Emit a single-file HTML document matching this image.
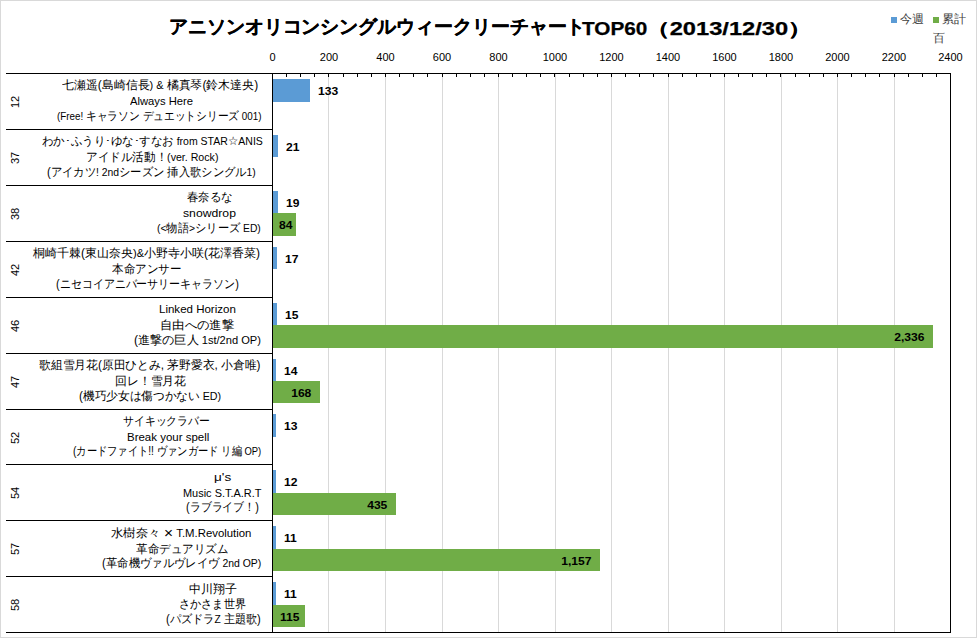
<!DOCTYPE html>
<html><head><meta charset="utf-8">
<style>
html,body{margin:0;padding:0;background:#fff;}
body{width:977px;height:638px;position:relative;overflow:hidden;font-family:"Liberation Sans",sans-serif;color:#000;}
.a{position:absolute;}
.ln{position:absolute;background:#000;}
.gl{position:absolute;background:#d9d9d9;}
.t{position:absolute;white-space:nowrap;font-size:12px;line-height:15px;transform-origin:0 0;}
.ax{position:absolute;white-space:nowrap;font-size:11px;line-height:12px;color:#000;}
.lb{position:absolute;white-space:nowrap;font-size:11px;line-height:12px;font-weight:bold;transform-origin:0 0;transform:scaleX(1.1);}
.lbr{transform-origin:100% 0;}
.rn{position:absolute;white-space:nowrap;font-size:11px;line-height:12px;transform-origin:0 0;transform:rotate(-90deg);}
.b{position:absolute;background:#5b9bd5;}
.l{font-size:11px;}
.g{position:absolute;background:#70ad47;}
</style></head><body>
<div class="a" style="left:0;top:0;width:977px;height:638px;box-sizing:border-box;border:1px solid #d9d9d9;"></div>

<div id="title_a" class="t" style="left:169.00px;top:14.5px;font-size:19px;line-height:24px;font-weight:bold;-webkit-text-stroke:0.25px #000;transform:scaleX(0.9961);">アニソンオリコンシングルウィークリーチャート</div>
<div id="title_b" class="t" style="left:582.11px;top:16.5px;font-size:18px;line-height:24px;font-weight:bold;-webkit-text-stroke:0.25px #000;transform:scaleX(1.1526);">TOP60</div>
<div id="title_c" class="t" style="left:645.74px;top:16.5px;font-size:18px;line-height:24px;font-weight:bold;-webkit-text-stroke:0.25px #000;transform:scaleX(1.3152);">（2013/12/30）</div>
<div class="b" style="left:891px;top:17px;width:6px;height:6px;"></div>
<div id="lg1" class="t" style="left:900px;top:12px;color:#404040;">今週</div>
<div class="g" style="left:933px;top:17px;width:6px;height:6px;"></div>
<div id="lg2" class="t" style="left:942px;top:12px;color:#404040;">累計</div>
<div id="lg3" class="t" style="left:933px;top:31px;color:#404040;">百</div>
<div class="gl" style="left:328px;top:74px;width:1px;height:558px;"></div>
<div class="gl" style="left:385px;top:74px;width:1px;height:558px;"></div>
<div class="gl" style="left:442px;top:74px;width:1px;height:558px;"></div>
<div class="gl" style="left:498px;top:74px;width:1px;height:558px;"></div>
<div class="gl" style="left:555px;top:74px;width:1px;height:558px;"></div>
<div class="gl" style="left:611px;top:74px;width:1px;height:558px;"></div>
<div class="gl" style="left:668px;top:74px;width:1px;height:558px;"></div>
<div class="gl" style="left:724px;top:74px;width:1px;height:558px;"></div>
<div class="gl" style="left:781px;top:74px;width:1px;height:558px;"></div>
<div class="gl" style="left:837px;top:74px;width:1px;height:558px;"></div>
<div class="gl" style="left:894px;top:74px;width:1px;height:558px;"></div>
<div class="ax" style="left:242.5px;width:60px;text-align:center;top:51px;">0</div>
<div class="ax" style="left:299.0px;width:60px;text-align:center;top:51px;">200</div>
<div class="ax" style="left:355.5px;width:60px;text-align:center;top:51px;">400</div>
<div class="ax" style="left:412.0px;width:60px;text-align:center;top:51px;">600</div>
<div class="ax" style="left:468.5px;width:60px;text-align:center;top:51px;">800</div>
<div class="ax" style="left:525.0px;width:60px;text-align:center;top:51px;">1000</div>
<div class="ax" style="left:581.5px;width:60px;text-align:center;top:51px;">1200</div>
<div class="ax" style="left:638.0px;width:60px;text-align:center;top:51px;">1400</div>
<div class="ax" style="left:694.5px;width:60px;text-align:center;top:51px;">1600</div>
<div class="ax" style="left:751.0px;width:60px;text-align:center;top:51px;">1800</div>
<div class="ax" style="left:807.5px;width:60px;text-align:center;top:51px;">2000</div>
<div class="ax" style="left:864.0px;width:60px;text-align:center;top:51px;">2200</div>
<div class="ax" style="left:920.5px;width:60px;text-align:center;top:51px;">2400</div>
<div class="ln" style="left:286px;top:74px;width:1px;height:3px;"></div>
<div class="ln" style="left:300px;top:74px;width:1px;height:3px;"></div>
<div class="ln" style="left:314px;top:74px;width:1px;height:3px;"></div>
<div class="ln" style="left:328px;top:74px;width:1px;height:3px;"></div>
<div class="ln" style="left:343px;top:74px;width:1px;height:3px;"></div>
<div class="ln" style="left:357px;top:74px;width:1px;height:3px;"></div>
<div class="ln" style="left:371px;top:74px;width:1px;height:3px;"></div>
<div class="ln" style="left:385px;top:74px;width:1px;height:3px;"></div>
<div class="ln" style="left:399px;top:74px;width:1px;height:3px;"></div>
<div class="ln" style="left:413px;top:74px;width:1px;height:3px;"></div>
<div class="ln" style="left:427px;top:74px;width:1px;height:3px;"></div>
<div class="ln" style="left:442px;top:74px;width:1px;height:3px;"></div>
<div class="ln" style="left:456px;top:74px;width:1px;height:3px;"></div>
<div class="ln" style="left:470px;top:74px;width:1px;height:3px;"></div>
<div class="ln" style="left:484px;top:74px;width:1px;height:3px;"></div>
<div class="ln" style="left:498px;top:74px;width:1px;height:3px;"></div>
<div class="ln" style="left:512px;top:74px;width:1px;height:3px;"></div>
<div class="ln" style="left:526px;top:74px;width:1px;height:3px;"></div>
<div class="ln" style="left:540px;top:74px;width:1px;height:3px;"></div>
<div class="ln" style="left:554px;top:74px;width:1px;height:3px;"></div>
<div class="ln" style="left:569px;top:74px;width:1px;height:3px;"></div>
<div class="ln" style="left:583px;top:74px;width:1px;height:3px;"></div>
<div class="ln" style="left:597px;top:74px;width:1px;height:3px;"></div>
<div class="ln" style="left:611px;top:74px;width:1px;height:3px;"></div>
<div class="ln" style="left:625px;top:74px;width:1px;height:3px;"></div>
<div class="ln" style="left:639px;top:74px;width:1px;height:3px;"></div>
<div class="ln" style="left:653px;top:74px;width:1px;height:3px;"></div>
<div class="ln" style="left:668px;top:74px;width:1px;height:3px;"></div>
<div class="ln" style="left:682px;top:74px;width:1px;height:3px;"></div>
<div class="ln" style="left:696px;top:74px;width:1px;height:3px;"></div>
<div class="ln" style="left:710px;top:74px;width:1px;height:3px;"></div>
<div class="ln" style="left:724px;top:74px;width:1px;height:3px;"></div>
<div class="ln" style="left:738px;top:74px;width:1px;height:3px;"></div>
<div class="ln" style="left:752px;top:74px;width:1px;height:3px;"></div>
<div class="ln" style="left:766px;top:74px;width:1px;height:3px;"></div>
<div class="ln" style="left:780px;top:74px;width:1px;height:3px;"></div>
<div class="ln" style="left:795px;top:74px;width:1px;height:3px;"></div>
<div class="ln" style="left:809px;top:74px;width:1px;height:3px;"></div>
<div class="ln" style="left:823px;top:74px;width:1px;height:3px;"></div>
<div class="ln" style="left:837px;top:74px;width:1px;height:3px;"></div>
<div class="ln" style="left:851px;top:74px;width:1px;height:3px;"></div>
<div class="ln" style="left:865px;top:74px;width:1px;height:3px;"></div>
<div class="ln" style="left:879px;top:74px;width:1px;height:3px;"></div>
<div class="ln" style="left:894px;top:74px;width:1px;height:3px;"></div>
<div class="ln" style="left:908px;top:74px;width:1px;height:3px;"></div>
<div class="ln" style="left:922px;top:74px;width:1px;height:3px;"></div>
<div class="ln" style="left:936px;top:74px;width:1px;height:3px;"></div>
<div class="b" style="left:273px;top:79px;width:37px;height:23px;"></div>
<div id="bl0" class="lb" style="left:318px;top:85px;">133</div>
<div class="b" style="left:273px;top:135px;width:5px;height:22px;"></div>
<div id="bl1" class="lb" style="left:286px;top:141px;">21</div>
<div class="b" style="left:273px;top:191px;width:5px;height:22px;"></div>
<div id="bl2" class="lb" style="left:286px;top:197px;">19</div>
<div class="g" style="left:273px;top:213px;width:23px;height:23px;"></div>
<div id="gl2" class="lb" style="left:279px;top:219px;">84</div>
<div class="b" style="left:273px;top:247px;width:4px;height:22px;"></div>
<div id="bl3" class="lb" style="left:285px;top:253px;">17</div>
<div class="b" style="left:273px;top:303px;width:4px;height:22px;"></div>
<div id="bl4" class="lb" style="left:285px;top:309px;">15</div>
<div class="g" style="left:273px;top:325px;width:660px;height:23px;"></div>
<div id="gl4" class="lb lbr" style="right:52.5px;top:331px;">2,336</div>
<div class="b" style="left:273px;top:359px;width:3px;height:22px;"></div>
<div id="bl5" class="lb" style="left:284px;top:365px;">14</div>
<div class="g" style="left:273px;top:381px;width:47px;height:22px;"></div>
<div id="gl5" class="lb lbr" style="right:665.5px;top:387px;">168</div>
<div class="b" style="left:273px;top:414px;width:3px;height:23px;"></div>
<div id="bl6" class="lb" style="left:284px;top:420px;">13</div>
<div class="b" style="left:273px;top:470px;width:3px;height:23px;"></div>
<div id="bl7" class="lb" style="left:284px;top:476px;">12</div>
<div class="g" style="left:273px;top:493px;width:123px;height:22px;"></div>
<div id="gl7" class="lb lbr" style="right:589.5px;top:499px;">435</div>
<div class="b" style="left:273px;top:526px;width:3px;height:23px;"></div>
<div id="bl8" class="lb" style="left:284px;top:532px;">11</div>
<div class="g" style="left:273px;top:549px;width:327px;height:22px;"></div>
<div id="gl8" class="lb lbr" style="right:385.5px;top:555px;">1,157</div>
<div class="b" style="left:273px;top:582px;width:3px;height:23px;"></div>
<div id="bl9" class="lb" style="left:284px;top:588px;">11</div>
<div class="g" style="left:273px;top:605px;width:32px;height:22px;"></div>
<div id="gl9" class="lb" style="left:280px;top:611px;">115</div>
<div class="ln" style="left:6px;top:73px;width:945px;height:1px;"></div>
<div class="ln" style="left:6px;top:129px;width:266px;height:1px;"></div>
<div class="ln" style="left:6px;top:185px;width:266px;height:1px;"></div>
<div class="ln" style="left:6px;top:241px;width:266px;height:1px;"></div>
<div class="ln" style="left:6px;top:297px;width:266px;height:1px;"></div>
<div class="ln" style="left:6px;top:353px;width:266px;height:1px;"></div>
<div class="ln" style="left:6px;top:409px;width:266px;height:1px;"></div>
<div class="ln" style="left:6px;top:464px;width:266px;height:1px;"></div>
<div class="ln" style="left:6px;top:520px;width:266px;height:1px;"></div>
<div class="ln" style="left:6px;top:576px;width:266px;height:1px;"></div>
<div class="ln" style="left:6px;top:632px;width:945px;height:1px;"></div>
<div class="ln" style="left:272px;top:73px;width:1px;height:560px;"></div>
<div class="ln" style="left:950px;top:73px;width:1px;height:560px;"></div>
<div id="r0_0" class="t" style="left:62.39px;top:78.3px;transform:scaleX(0.9950);">七瀬遥(島崎信長<span class="l">) &amp; </span>橘真琴(鈴木達央)</div>
<div id="r0_1" class="t" style="left:129.53px;top:94.1px;transform:scaleX(1.0214);"><span class="l">Always Here</span></div>
<div id="r0_2" class="t" style="left:57.46px;top:108.9px;transform:scaleX(0.8933);"><span class="l">(Free! </span>キャラソン デュエットシリーズ<span class="l"> 001)</span></div>
<div id="rn0" class="rn" style="left:9px;top:108.0px;">12</div>
<div id="r1_0" class="t" style="left:41.83px;top:134.2px;transform:scaleX(0.9546);">わか･ふうり･ゆな･すなお<span class="l"> from STAR</span>☆<span class="l">ANIS</span></div>
<div id="r1_1" class="t" style="left:86.03px;top:150.0px;transform:scaleX(0.9654);">アイドル活動！<span class="l">(ver. Rock)</span></div>
<div id="r1_2" class="t" style="left:47.43px;top:164.8px;transform:scaleX(0.9419);">(アイカツ<span class="l">! 2nd</span>シーズン 挿入歌シングル<span class="l">1)</span></div>
<div id="rn1" class="rn" style="left:9px;top:164.0px;">37</div>
<div id="r2_0" class="t" style="left:187.18px;top:190.1px;transform:scaleX(0.9580);">春奈るな</div>
<div id="r2_1" class="t" style="left:183.24px;top:205.9px;transform:scaleX(1.1095);"><span class="l">snowdrop</span></div>
<div id="r2_2" class="t" style="left:157.23px;top:220.7px;transform:scaleX(0.9392);"><span class="l">(&lt;</span>物語<span class="l">&gt;</span>シリーズ<span class="l"> ED)</span></div>
<div id="rn2" class="rn" style="left:9px;top:220.0px;">38</div>
<div id="r3_0" class="t" style="left:33.00px;top:246.1px;transform:scaleX(1.0000);">桐崎千棘(東山奈央<span class="l">)&amp;</span>小野寺小咲(花澤香菜)</div>
<div id="r3_1" class="t" style="left:112.31px;top:261.9px;transform:scaleX(0.9589);">本命アンサー</div>
<div id="r3_2" class="t" style="left:55.54px;top:276.7px;transform:scaleX(0.9146);">(ニセコイアニバーサリーキャラソン)</div>
<div id="rn3" class="rn" style="left:9px;top:276.0px;">42</div>
<div id="r4_0" class="t" style="left:159.11px;top:302.0px;transform:scaleX(1.0472);"><span class="l">Linked Horizon</span></div>
<div id="r4_1" class="t" style="left:160.15px;top:317.8px;transform:scaleX(1.0292);">自由への進撃</div>
<div id="r4_2" class="t" style="left:134.08px;top:332.6px;transform:scaleX(1.0097);">(進撃の巨人<span class="l"> 1st/2nd OP)</span></div>
<div id="rn4" class="rn" style="left:9px;top:332.0px;">46</div>
<div id="r5_0" class="t" style="left:39.31px;top:357.9px;transform:scaleX(0.9822);">歌組雪月花(原田ひとみ, 茅野愛衣, 小倉唯)</div>
<div id="r5_1" class="t" style="left:114.51px;top:373.7px;transform:scaleX(0.9865);">回レ！雪月花</div>
<div id="r5_2" class="t" style="left:79.41px;top:388.5px;transform:scaleX(0.9730);">(機巧少女は傷つかない<span class="l"> ED)</span></div>
<div id="rn5" class="rn" style="left:9px;top:388.0px;">47</div>
<div id="r6_0" class="t" style="left:123.19px;top:413.8px;transform:scaleX(0.9044);">サイキックラバー</div>
<div id="r6_1" class="t" style="left:126.81px;top:429.6px;transform:scaleX(1.0426);"><span class="l">Break your spell</span></div>
<div id="r6_2" class="t" style="left:73.31px;top:444.4px;transform:scaleX(0.8553);">(カードファイト!! ヴァンガード リ編<span class="l"> OP)</span></div>
<div id="rn6" class="rn" style="left:9px;top:443.5px;">52</div>
<div id="r7_0" class="t" style="left:214.31px;top:469.7px;transform:scaleX(1.2307);"><span class="l">μ's</span></div>
<div id="r7_1" class="t" style="left:183.32px;top:485.5px;transform:scaleX(0.9953);"><span class="l">Music S.T.A.R.T</span></div>
<div id="r7_2" class="t" style="left:186.26px;top:500.3px;transform:scaleX(0.9115);">(ラブライブ！)</div>
<div id="rn7" class="rn" style="left:9px;top:499.0px;">54</div>
<div id="r8_0" class="t" style="left:111.31px;top:525.7px;transform:scaleX(1.0333);">水樹奈々 <span style="font-size:15px;line-height:0;vertical-align:-1px">×</span><span class="l"> T.M.Revolution</span></div>
<div id="r8_1" class="t" style="left:136.10px;top:541.5px;transform:scaleX(0.9585);">革命デュアリズム</div>
<div id="r8_2" class="t" style="left:102.23px;top:556.3px;transform:scaleX(0.9480);">(革命機ヴァルヴレイヴ<span class="l"> 2nd OP)</span></div>
<div id="rn8" class="rn" style="left:9px;top:555.0px;">57</div>
<div id="r9_0" class="t" style="left:189.20px;top:581.6px;transform:scaleX(1.0015);">中川翔子</div>
<div id="r9_1" class="t" style="left:179.25px;top:597.4px;transform:scaleX(0.9278);">さかさま世界</div>
<div id="r9_2" class="t" style="left:166.16px;top:612.2px;transform:scaleX(0.9309);">(パズドラ<span class="l">Z </span>主題歌)</div>
<div id="rn9" class="rn" style="left:9px;top:611.0px;">58</div>
</body></html>
